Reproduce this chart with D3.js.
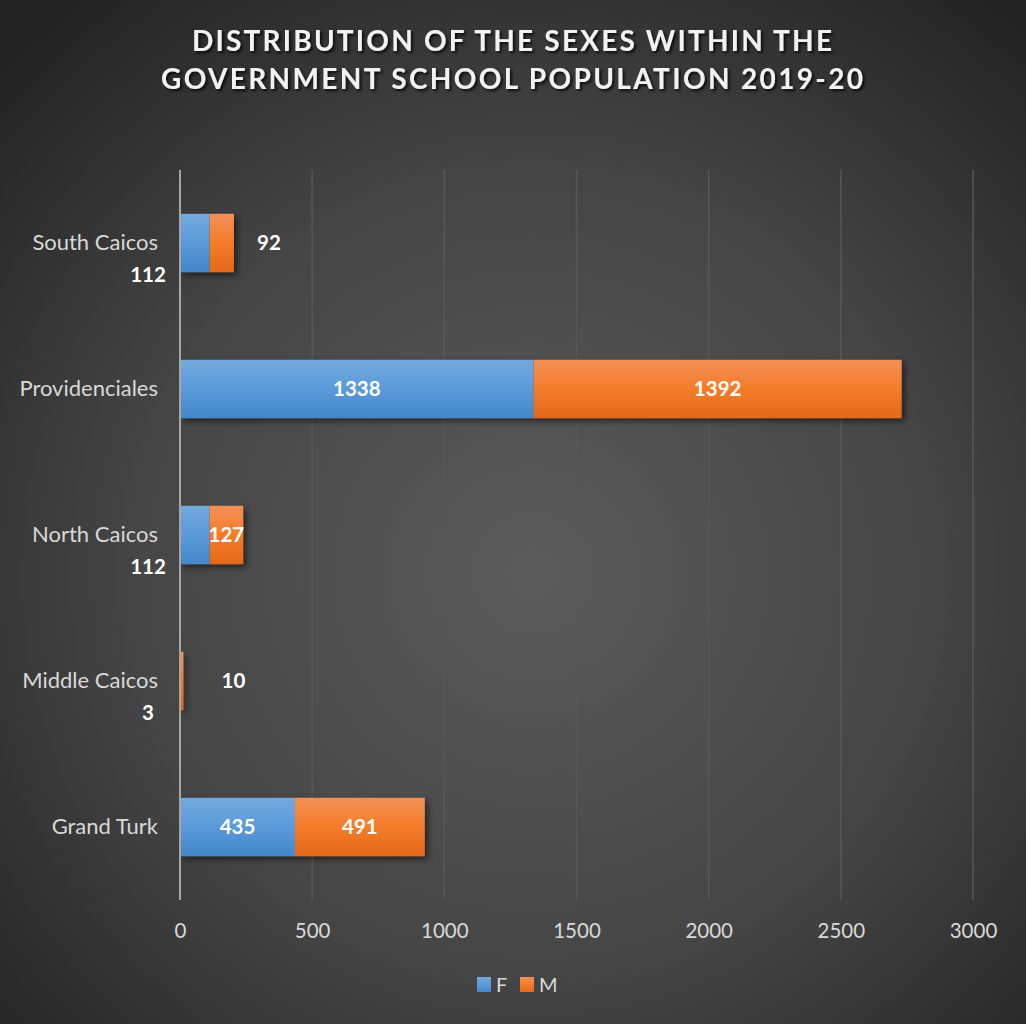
<!DOCTYPE html>
<html>
<head>
<meta charset="utf-8">
<script src="https://cdn.jsdelivr.net/npm/d3@7/dist/d3.min.js"></script>
<style>
  html, body { margin: 0; padding: 0; background: #2a2a2a; }
  svg { display: block; }
</style>
</head>
<body>
<div id="chart"></div>
<script>
// Government school population by island and sex, 2019-20
const titleLines = ["DISTRIBUTION OF THE SEXES WITHIN THE", "GOVERNMENT SCHOOL POPULATION 2019-20"];
const categories = ["South Caicos", "Providenciales", "North Caicos", "Middle Caicos", "Grand Turk"];
const seriesNames = ["F", "M"];
const femaleValues = [112, 1338, 112, 3, 435];
const maleValues = [92, 1392, 127, 10, 491];
const tickValues = [0, 500, 1000, 1500, 2000, 2500, 3000];

const W = 1026, H = 1024;
const margin = { left: 180, right: 53, top: 170, bottom: 124 };

const svg = d3.select("#chart").append("svg")
  .attr("width", W).attr("height", H)
  .style("font-family", "Lato, 'Open Sans', sans-serif");

const defs = svg.append("defs");

// dark radial backdrop
const bg = defs.append("radialGradient").attr("id", "bg")
  .attr("cx", "52%").attr("cy", "56%").attr("r", "72%");
bg.append("stop").attr("offset", "0%").attr("stop-color", "#5b5b5b");
bg.append("stop").attr("offset", "55%").attr("stop-color", "#454545");
bg.append("stop").attr("offset", "100%").attr("stop-color", "#222222");

const palettes = {
  F: ["#74a9de", "#5a9ad9", "#4387c9"],
  M: ["#f39058", "#f47c28", "#e4681a"]
};
seriesNames.forEach(s => {
  const g = defs.append("linearGradient").attr("id", "grad" + s)
    .attr("x1", 0).attr("y1", 0).attr("x2", 0).attr("y2", 1);
  g.append("stop").attr("offset", "0%").attr("stop-color", palettes[s][0]);
  g.append("stop").attr("offset", "50%").attr("stop-color", palettes[s][1]);
  g.append("stop").attr("offset", "100%").attr("stop-color", palettes[s][2]);
});

const shadow = defs.append("filter").attr("id", "barShadow")
  .attr("x", "-10%").attr("y", "-20%").attr("width", "130%").attr("height", "160%");
shadow.append("feDropShadow").attr("dx", 3).attr("dy", 3).attr("stdDeviation", 3)
  .attr("flood-color", "#000").attr("flood-opacity", 0.55);

const tshadow = defs.append("filter").attr("id", "titleShadow")
  .attr("x", "-5%").attr("y", "-30%").attr("width", "110%").attr("height", "160%");
tshadow.append("feDropShadow").attr("dx", 2).attr("dy", 2).attr("stdDeviation", 1.5)
  .attr("flood-color", "#000").attr("flood-opacity", 0.8);

svg.append("rect").attr("width", W).attr("height", H).attr("fill", "url(#bg)");

// title
const titleWidths = [640, 702];
svg.append("g").attr("filter", "url(#titleShadow)")
  .selectAll("text").data(titleLines).join("text")
  .attr("x", W / 2 - 1)
  .attr("y", (d, i) => 51 + i * 38)
  .attr("text-anchor", "middle")
  .attr("textLength", (d, i) => titleWidths[i])
  .attr("lengthAdjust", "spacing")
  .attr("fill", "#f2f2f2")
  .attr("font-size", 28)
  .attr("font-weight", 700)
  .text(d => d);

const x = d3.scaleLinear().domain([0, 3000]).range([margin.left, W - margin.right]);
const y = d3.scaleBand().domain(categories)
  .range([margin.top, H - margin.bottom]).paddingInner(0.6).paddingOuter(0.3);

// vertical gridlines
svg.append("g").selectAll("line").data(tickValues.slice(1)).join("line")
  .attr("x1", d => x(d)).attr("x2", d => x(d))
  .attr("y1", margin.top).attr("y2", H - margin.bottom)
  .attr("stroke", "#575757").attr("stroke-width", 1.5);

// x axis tick labels
const xAxis = d3.axisBottom(x).tickValues(tickValues).tickSize(0).tickPadding(0).tickFormat(d3.format("d"));
const gx = svg.append("g").attr("transform", `translate(0,${H - margin.bottom + 23})`).call(xAxis);
gx.select(".domain").remove();
gx.selectAll("text").attr("fill", "#d9d9d9").attr("font-size", 20.5)
  .attr("font-family", "Lato, 'Open Sans', sans-serif");

// stacked rows
const rows = categories.map((c, i) => ({ cat: c, F: femaleValues[i], M: maleValues[i] }));
const stacked = d3.stack().keys(seriesNames)(rows);

const barLayer = svg.append("g").attr("filter", "url(#barShadow)");
stacked.forEach(layer => {
  barLayer.append("g").selectAll("rect").data(layer).join("rect")
    .attr("x", d => x(d[0]))
    .attr("y", d => y(d.data.cat))
    .attr("width", d => x(d[1]) - x(d[0]))
    .attr("height", y.bandwidth())
    .attr("fill", `url(#grad${layer.key})`);
});

// baseline axis at zero
svg.append("line")
  .attr("x1", x(0)).attr("x2", x(0))
  .attr("y1", margin.top).attr("y2", H - margin.bottom)
  .attr("stroke", "#a6a6a6").attr("stroke-width", 2);

// category labels
svg.append("g").selectAll("text").data(categories).join("text")
  .attr("x", x(0) - 22)
  .attr("y", d => y(d) + y.bandwidth() / 2 - 1)
  .attr("dy", "0.35em")
  .attr("text-anchor", "end")
  .attr("fill", "#d9d9d9")
  .attr("font-size", 22)
  .text(d => d);

// data labels: inside the segment when it fits, otherwise set beside the bar
const outsideNudge = { "South Caicos": 35, "Middle Caicos": 50 };
const labelLayer = svg.append("g")
  .attr("fill", "#ffffff").attr("font-size", 20.5).attr("font-weight", 700);
stacked.forEach(layer => {
  layer.forEach(d => {
    const v = d[1] - d[0];
    const w = x(d[1]) - x(d[0]);
    const cy = y(d.data.cat) + y.bandwidth() / 2;
    const t = labelLayer.append("text").attr("text-anchor", "middle").attr("dy", "0.35em").text(v);
    if (w >= 30 || (layer.key === "M" && !(d.data.cat in outsideNudge))) {
      t.attr("x", (x(d[0]) + x(d[1])) / 2).attr("y", cy);
    } else if (layer.key === "F") {
      t.attr("x", x(0) - 32).attr("y", y(d.data.cat) + y.bandwidth() + 3);
    } else {
      t.attr("x", x(d[1]) + outsideNudge[d.data.cat]).attr("y", cy);
    }
  });
});

// legend
const legend = svg.append("g").attr("transform", "translate(477,977)");
const legendItems = legend.selectAll("g").data(seriesNames).join("g")
  .attr("transform", (d, i) => `translate(${i * 43},0)`);
legendItems.append("rect").attr("width", 14).attr("height", 15)
  .attr("fill", d => `url(#grad${d})`);
legendItems.append("text").attr("x", 19).attr("y", 7.5).attr("dy", "0.36em")
  .attr("fill", "#d9d9d9").attr("font-size", 20).text(d => d);
</script>
</body>
</html>
